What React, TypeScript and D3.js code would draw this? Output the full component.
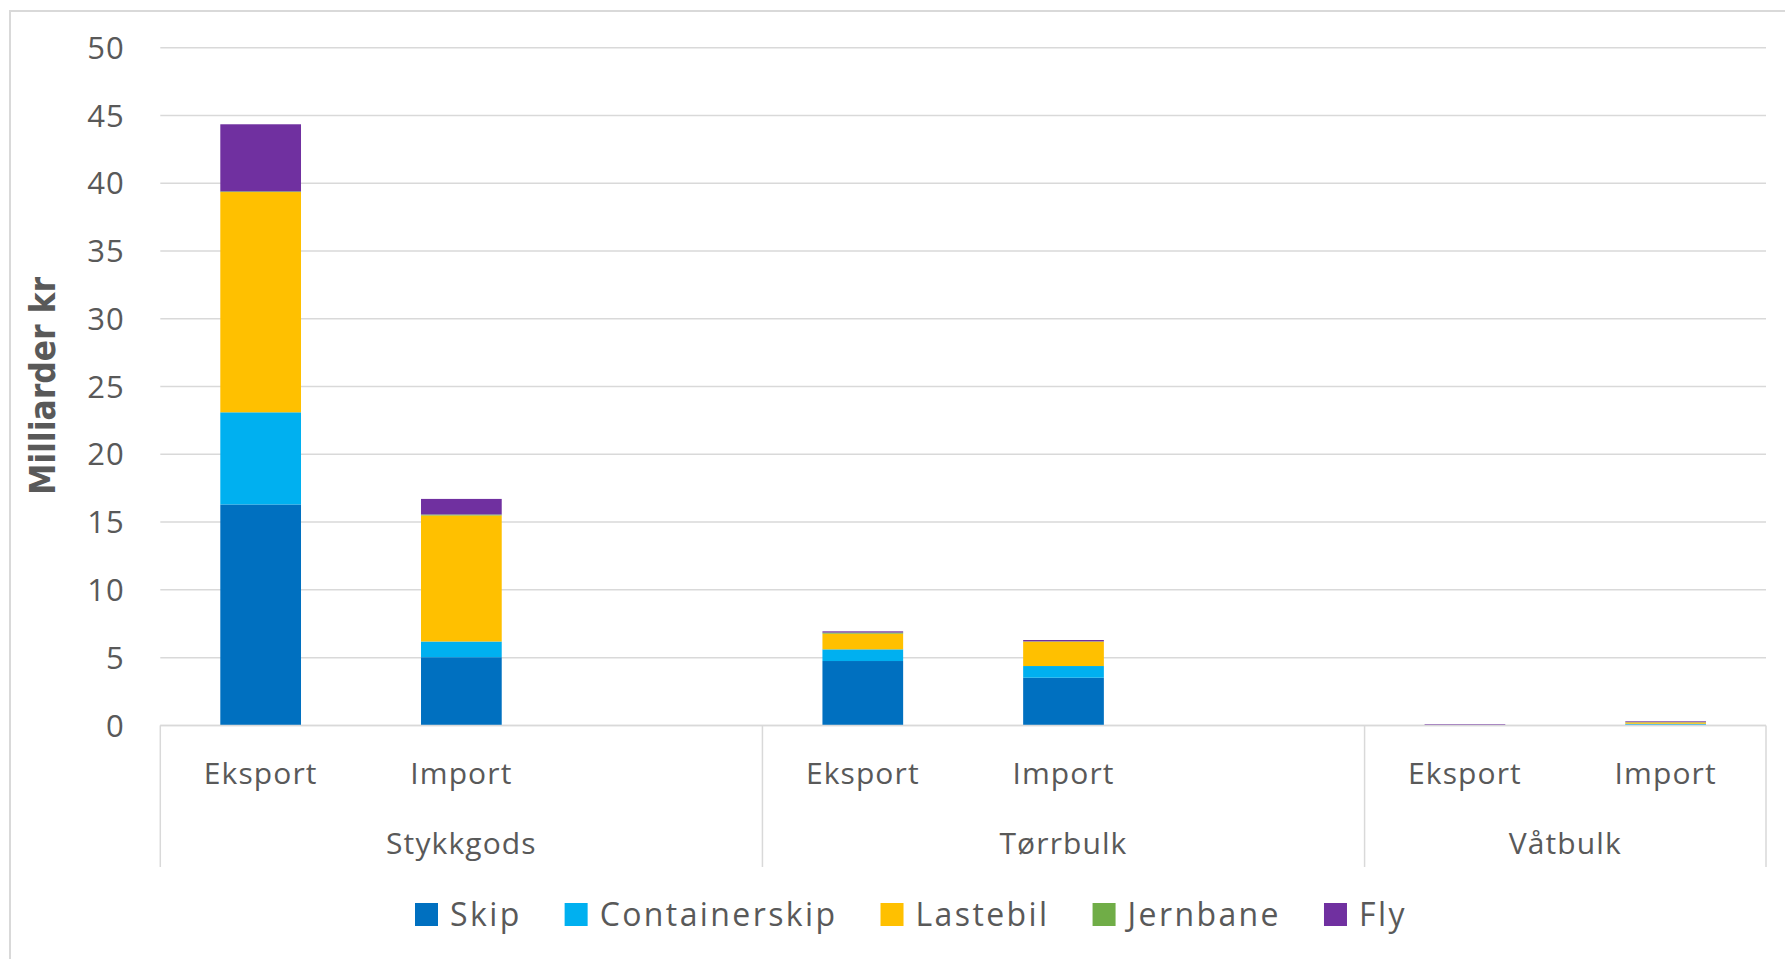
import React, { useEffect, useRef } from "react";
import * as d3 from "d3";

const groups = ["Stykkgods", "Tørrbulk", "Våtbulk"];
const subcats = ["Eksport", "Import"];
const seriesNames = ["Skip", "Containerskip", "Lastebil", "Jernbane", "Fly"];
const seriesColors = ["#0070C0", "#00B0F0", "#FFC000", "#70AD47", "#7030A0"];
// order of bars: Stykkgods Eksport, Stykkgods Import, Tørrbulk Eksport, Tørrbulk Import, Våtbulk Eksport, Våtbulk Import
const skip = [16.3, 5.03, 4.75, 3.52, 0.0, 0.06];
const containerskip = [6.8, 1.16, 0.86, 0.86, 0.0, 0.06];
const lastebil = [16.25, 9.3, 1.16, 1.8, 0.0, 0.1];
const jernbane = [0.05, 0.07, 0.08, 0.02, 0.0, 0.02];
const fly = [4.95, 1.15, 0.09, 0.1, 0.08, 0.06];
const yTicks = [0, 5, 10, 15, 20, 25, 30, 35, 40, 45, 50];
const yTitle = "Milliarder kr";

const W = 1785;
const H = 959;
const TEXT = "#595959";
const GRID = "#d9d9d9";
const FONT = "'Open Sans', sans-serif";

export default function App() {
  const ref = useRef<SVGSVGElement>(null);

  useEffect(() => {
    const svg = d3.select(ref.current);
    svg.selectAll("*").remove();

    const plot = { left: 160.3, right: 1766, top: 47.7, bottom: 725.4 };

    // chart border
    svg.append("rect").attr("x", 10).attr("y", 11).attr("width", W).attr("height", H)
      .attr("fill", "white").attr("stroke", GRID).attr("stroke-width", 2);

    // slots: subcats per group, with a spacer between groups
    const slots: { key: string; group: string; sub: string | null; idx: number }[] = [];
    let barIdx = 0;
    groups.forEach((g, gi) => {
      subcats.forEach((s) => {
        slots.push({ key: g + "|" + s, group: g, sub: s, idx: barIdx++ });
      });
      if (gi < groups.length - 1) slots.push({ key: g + "|_", group: g, sub: null, idx: -1 });
    });

    const p = 1 - 80.7 / 200.7;
    const x = d3.scaleBand<string>().domain(slots.map((s) => s.key))
      .range([plot.left, plot.right]).paddingInner(p).paddingOuter(p / 2);
    const step = x.step();
    const y = d3.scaleLinear().domain([0, 50]).range([plot.bottom, plot.top]);

    // gridlines
    svg.append("g").selectAll("line").data(yTicks).join("line")
      .attr("x1", plot.left).attr("x2", plot.right)
      .attr("y1", (d) => y(d)).attr("y2", (d) => y(d))
      .attr("stroke", GRID).attr("stroke-width", 1.5);

    // y tick labels
    svg.append("g").selectAll("text").data(yTicks).join("text")
      .attr("x", 125).attr("y", (d) => y(d)).attr("dy", "0.36em")
      .attr("text-anchor", "end").attr("font-family", FONT).attr("font-size", 31)
      .attr("letter-spacing", 1.2)
      .attr("fill", TEXT).text((d) => String(d));

    // y title
    svg.append("text").attr("transform", `translate(55,386) rotate(-90)`)
      .attr("text-anchor", "middle").attr("font-family", "'DejaVu Sans Condensed', 'DejaVu Sans', sans-serif")
      .attr("font-weight", "bold").attr("font-stretch", "condensed")
      .attr("font-size", 35).attr("fill", TEXT).text(yTitle);

    // stacked bars
    const values = [skip, containerskip, lastebil, jernbane, fly];
    const barSlots = slots.filter((s) => s.sub !== null);
    const table = barSlots.map((s) => {
      const row: any = { key: s.key };
      seriesNames.forEach((n, i) => (row[n] = values[i][s.idx]));
      return row;
    });
    const stack = d3.stack<any>().keys(seriesNames)(table);
    const barsG = svg.append("g");
    stack.forEach((layer, li) => {
      barsG.append("g").attr("fill", seriesColors[li]).selectAll("rect").data(layer).join("rect")
        .attr("x", (d: any) => x(d.data.key)!)
        .attr("width", x.bandwidth())
        .attr("y", (d: any) => y(d[1]))
        .attr("height", (d: any) => Math.max(0, y(d[0]) - y(d[1])));
    });

    // category axis line
    svg.append("line").attr("x1", plot.left).attr("x2", plot.right)
      .attr("y1", plot.bottom).attr("y2", plot.bottom).attr("stroke", GRID).attr("stroke-width", 1.5);

    // sub labels
    svg.append("g").selectAll("text").data(barSlots).join("text")
      .attr("x", (d) => x(d.key)! + x.bandwidth() / 2).attr("y", 784)
      .attr("text-anchor", "middle").attr("font-family", FONT).attr("font-size", 30)
      .attr("letter-spacing", 1.1)
      .attr("fill", TEXT).text((d) => d.sub as string);

    // group dividers and labels
    const bottomLine = 867;
    const groupBounds = groups.map((g) => {
      const gs = slots.filter((s) => s.group === g);
      const start = x(gs[0].key)! - (step - x.bandwidth()) / 2;
      const end = x(gs[gs.length - 1].key)! - (step - x.bandwidth()) / 2 + step;
      return { g, start, end };
    });
    const divs = [...groupBounds.map((b) => b.start), groupBounds[groupBounds.length - 1].end];
    svg.append("g").selectAll("line").data(divs).join("line")
      .attr("x1", (d) => d).attr("x2", (d) => d)
      .attr("y1", plot.bottom).attr("y2", bottomLine)
      .attr("stroke", GRID).attr("stroke-width", 1.5);
    svg.append("g").selectAll("text").data(groupBounds).join("text")
      .attr("x", (d) => (d.start + d.end) / 2).attr("y", 854)
      .attr("text-anchor", "middle").attr("font-family", FONT).attr("font-size", 30)
      .attr("letter-spacing", 1.1)
      .attr("fill", TEXT).text((d) => d.g);

    // legend
    const lg = svg.append("g");
    let lx = 415;
    seriesNames.forEach((n, i) => {
      lg.append("rect").attr("x", lx).attr("y", 903).attr("width", 23).attr("height", 23)
        .attr("fill", seriesColors[i]);
      const t = lg.append("text").attr("x", lx + 35).attr("y", 926)
        .attr("font-family", FONT).attr("font-size", 32).attr("letter-spacing", 2.4)
        .attr("fill", TEXT).text(n);
      const w = (t.node() as SVGTextElement).getComputedTextLength();
      lx = lx + 35 + w + 43;
    });
  }, []);

  return (
    <svg ref={ref} width={W} height={H}
      style={{ position: "fixed", left: 0, top: 0, background: "white" }} />
  );
}
